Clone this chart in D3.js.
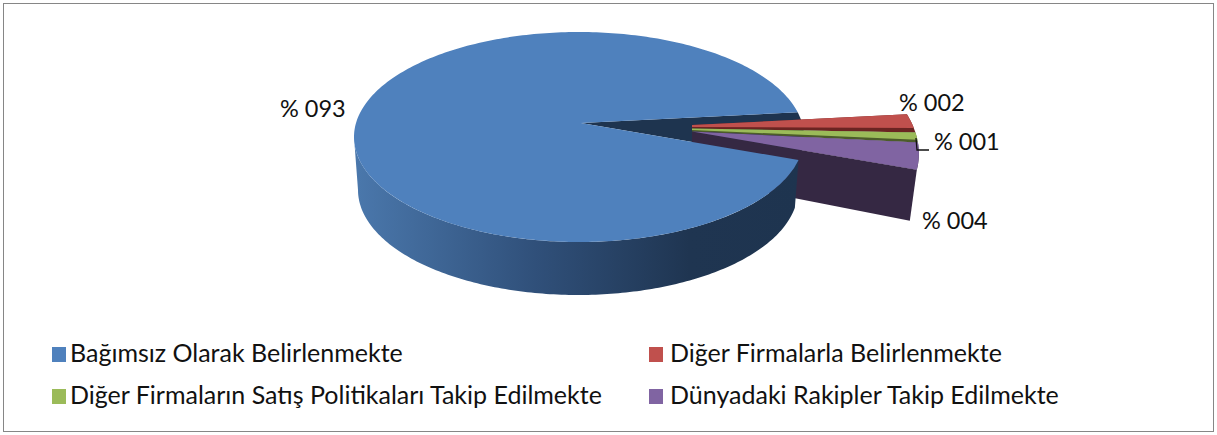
<!DOCTYPE html>
<html>
<head>
<meta charset="utf-8">
<script src="https://cdn.jsdelivr.net/npm/d3@7"></script>
<style>
  html, body { margin: 0; padding: 0; background: #fff; }
  text { font-family: Lato, "Open Sans", sans-serif; fill: #111; }
</style>
</head>
<body>
<div id="chart-area"></div>
<script>
// Data (labels are the rounded values)
var categories = [
  "Bağımsız Olarak Belirlenmekte",
  "Diğer Firmalarla Belirlenmekte",
  "Diğer Firmaların Satış Politikaları Takip Edilmekte",
  "Dünyadaki Rakipler Takip Edilmekte"
];
var shares = [92.7, 2.4, 1.3, 3.6];
var valueLabels = ["% 093", "% 002", "% 001", "% 004"];
var topColors = ["#4f81bd", "#c0504d", "#9bbb59", "#8064a2"];
var cutColors = ["#1e344f", "#6b2422", "#4c5c2a", "#352843"];

var width = 1217, height = 435;

var svg = d3.select("#chart-area").append("svg")
    .attr("width", width)
    .attr("height", height)
    .style("display", "block");

// Frame
svg.append("rect")
    .attr("x", 3.5).attr("y", 3.5)
    .attr("width", 1210).attr("height", 428)
    .attr("fill", "#fff")
    .attr("stroke", "#868686");

var defs = svg.append("defs");
var wallGrad = defs.append("linearGradient")
    .attr("id", "wall")
    .attr("gradientUnits", "userSpaceOnUse")
    .attr("x1", 358).attr("x2", 800).attr("y1", 0).attr("y2", 0);
wallGrad.append("stop").attr("offset", "0%").attr("stop-color", "#4a77ab");
wallGrad.append("stop").attr("offset", "40%").attr("stop-color", "#30507a");
wallGrad.append("stop").attr("offset", "75%").attr("stop-color", "#1f3551");
wallGrad.append("stop").attr("offset", "100%").attr("stop-color", "#1e344f");

// Pie angles; d3 measures from 12 o'clock so -90deg gives the ellipse angle
var deg = Math.PI / 180;
var startDeg = 12.68 + 90;
var pie = d3.pie().sort(null)
    .startAngle(startDeg * deg)
    .endAngle((startDeg + 360) * deg);
var slices = pie(shares);

// The tilted pie: top and bottom ellipses for the main slice, another for the pulled out ones
var mainTop = {cx: 579, cy: 137, rx: 225, ry: 105, skew: 0, apex: [581, 123]};
var mainBottom = {cx: 578, cy: 190, rx: 220, ry: 105, skew: 0};
var outTop = {cx: 690, cy: 143, rx: 228, ry: 122, skew: 20};
var outBottom = {cx: 683, cy: 194, rx: 228, ry: 122, skew: 20, apex: [692, 178]};

function project(e, a) {
  var t = a - Math.PI / 2;
  return [e.cx + e.rx * Math.cos(t) + e.skew * Math.sin(t), e.cy + e.ry * Math.sin(t)];
}
function arcPoints(e, a0, a1) {
  var n = Math.max(2, Math.ceil(Math.abs(a1 - a0) / (1 * deg)));
  return d3.range(n + 1).map(function(i) {
    return project(e, a0 + (a1 - a0) * i / n);
  });
}
var line = d3.line();
function closed(points) { return line(points) + "Z"; }

var main = slices[0];
var rest = slices.slice(1);
// the small slices do not quite meet in one point: y at the inner end of top edge, face bottom, cut bottom
var innerX = 692;
var innerY = [[125, 127, 128.5], [128.5, 130, 131.5], [131.5, 131.5, 131.5]];
var cutFace = [2.1, 1.2, 0];   // degrees of dark cut face showing at the end of each small slice

// Dark hollow left by the pulled out slices
svg.append("path")
    .attr("d", closed([mainTop.apex].concat(arcPoints(mainTop, main.endAngle, main.startAngle + 2 * Math.PI))))
    .attr("fill", cutColors[0]);

// Cut face of the purple slice
var purple = rest[2];
svg.append("path")
    .attr("d", closed([[innerX, innerY[2][0]], project(outTop, purple.endAngle), project(outBottom, purple.endAngle), outBottom.apex]))
    .attr("fill", cutColors[3]);

// Small slices
svg.selectAll(".small-cut")
    .data(rest)
  .enter().append("path")
    .attr("class", "small-cut")
    .attr("d", function(d, i) {
      return closed([[innerX, innerY[i][0]]]
        .concat(arcPoints(outTop, d.startAngle, d.endAngle))
        .concat([[innerX, innerY[i][2]]]));
    })
    .attr("fill", function(d) { return cutColors[d.index]; });

svg.selectAll(".small-top")
    .data(rest)
  .enter().append("path")
    .attr("class", "small-top")
    .attr("d", function(d, i) {
      return closed([[innerX, innerY[i][0]]]
        .concat(arcPoints(outTop, d.startAngle, d.endAngle - cutFace[i] * deg))
        .concat([[innerX, innerY[i][1]]]));
    })
    .attr("fill", function(d) { return topColors[d.index]; });

// Side wall of the main slice, front part only
var wallTop = arcPoints(mainTop, main.startAngle, 270 * deg);
var wallBottom = arcPoints(mainBottom, 270 * deg, main.startAngle - 3 * deg);
svg.append("path")
    .attr("d", closed(wallTop.concat(wallBottom)))
    .attr("fill", "url(#wall)");

// Main slice top
svg.append("path")
    .attr("d", closed([mainTop.apex].concat(arcPoints(mainTop, main.startAngle, main.endAngle))))
    .attr("fill", topColors[0]);

// Leader line for the 1% label
svg.append("path")
    .attr("d", "M916,138L917,150L929,150")
    .attr("fill", "none")
    .attr("stroke", "#111")
    .attr("stroke-width", 1.3);

// Value labels
var labelPos = [[280, 117], [899, 111], [934, 150], [922, 229]];
svg.selectAll(".value-label")
    .data(valueLabels)
  .enter().append("text")
    .attr("class", "value-label")
    .attr("x", function(d, i) { return labelPos[i][0]; })
    .attr("y", function(d, i) { return labelPos[i][1]; })
    .attr("font-size", 23.5)
    .text(function(d) { return d; });

// Legend, two rows by two columns
var swatchCol = d3.scaleOrdinal().domain([0, 1]).range([52, 649]);
var textCol = d3.scaleOrdinal().domain([0, 1]).range([70, 670]);
var legendRow = d3.scaleOrdinal().domain([0, 1]).range([347, 389]);
svg.selectAll(".swatch")
    .data(categories)
  .enter().append("rect")
    .attr("class", "swatch")
    .attr("x", function(d, i) { return swatchCol(i % 2); })
    .attr("y", function(d, i) { return legendRow(i >> 1); })
    .attr("width", 14)
    .attr("height", 15)
    .attr("fill", function(d, i) { return topColors[i]; });
svg.selectAll(".legend-label")
    .data(categories)
  .enter().append("text")
    .attr("class", "legend-label")
    .attr("x", function(d, i) { return textCol(i % 2); })
    .attr("y", function(d, i) { return legendRow(i >> 1) + 15; })
    .attr("font-size", 25)
    .text(function(d) { return d; });
</script>
</body>
</html>
